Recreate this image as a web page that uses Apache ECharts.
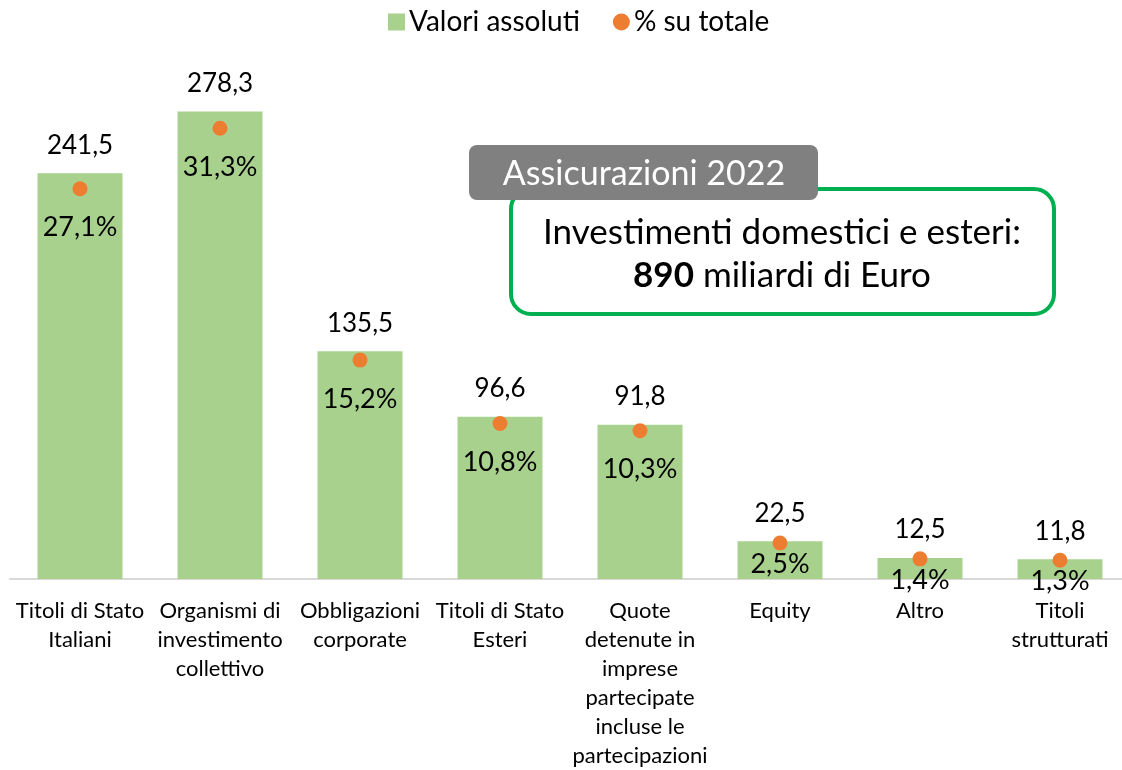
<!DOCTYPE html>
<html>
<head>
<meta charset="utf-8">
<script src="https://cdn.jsdelivr.net/npm/echarts@6/dist/echarts.min.js"></script>
<style>
  html, body { margin: 0; padding: 0; background: #fff; }
  #chart { width: 1122px; height: 770px; }
</style>
</head>
<body>
<div id="chart"></div>
<script>
var categories = [
  'Titoli di Stato\nItaliani',
  'Organismi di\ninvestimento\ncollettivo',
  'Obbligazioni\ncorporate',
  'Titoli di Stato\nEsteri',
  'Quote\ndetenute in\nimprese\npartecipate\nincluse le\npartecipazioni',
  'Equity',
  'Altro',
  'Titoli\nstrutturati'
];
var absValues = [241.5, 278.3, 135.5, 96.6, 91.8, 22.5, 12.5, 11.8];
var pctValues = [27.1, 31.3, 15.2, 10.8, 10.3, 2.5, 1.4, 1.3];

var font = 'Lato, "Open Sans", sans-serif';
function itNum(v, d) {
  return v.toFixed(d).replace('.', ',');
}

// small bars: label sits closer to the dot, over the axis line
var pctData = pctValues.map(function (v) {
  return v < 5 ? { value: v, label: { distance: 0 } } : v;
});

var chart = echarts.init(document.getElementById('chart'), null, { renderer: 'canvas' });
chart.setOption({
  animation: false,
  textStyle: { fontFamily: font, color: '#000' },
  legend: {
    top: 3,
    left: 383,
    itemGap: 33,
    itemWidth: 17,
    itemHeight: 17,
    textStyle: { fontSize: 28, fontFamily: font, color: '#000', padding: [0, 0, 0, -1] },
    data: [
      { name: 'Valori assoluti', icon: 'rect' },
      { name: '% su totale', icon: 'circle' }
    ]
  },
  grid: { left: 10, width: 1120, top: 75, bottom: 191, outerBoundsMode: 'none', containLabel: false },
  xAxis: {
    type: 'category',
    data: categories,
    axisLine: { lineStyle: { color: '#d9d9d9', width: 2 } },
    axisTick: { show: false },
    axisLabel: {
      interval: 0,
      margin: 17,
      fontSize: 22,
      lineHeight: 29,
      color: '#000',
      fontFamily: font
    }
  },
  yAxis: [
    { type: 'value', min: 0, max: 300, show: false },
    { type: 'value', min: 0, max: 35, show: false }
  ],
  series: [
    {
      name: 'Valori assoluti',
      type: 'bar',
      data: absValues,
      barWidth: 85,
      itemStyle: { color: '#a9d18e' },
      label: {
        show: true,
        position: 'top',
        distance: 15,
        fontSize: 26,
        color: '#000',
        fontFamily: font,
        formatter: function (p) { return itNum(p.value, 1); }
      }
    },
    {
      name: '% su totale',
      type: 'scatter',
      yAxisIndex: 1,
      data: pctData,
      symbol: 'circle',
      symbolSize: 15,
      itemStyle: { color: '#ed7d31', opacity: 1 },
      z: 5,
      label: {
        show: true,
        position: 'bottom',
        distance: 18,
        fontSize: 27,
        color: '#000',
        textBorderWidth: 0,
        fontFamily: font,
        formatter: function (p) { return itNum(p.value, 1) + '%'; }
      }
    }
  ],
  graphic: [
    {
      type: 'rect',
      shape: { x: 511, y: 189, width: 543, height: 125, r: 20 },
      style: { fill: '#fff', stroke: '#00b050', lineWidth: 4 },
      z: 10
    },
    {
      type: 'rect',
      shape: { x: 469, y: 145, width: 349, height: 55, r: 8 },
      style: { fill: '#808080' },
      z: 11
    },
    {
      type: 'text',
      x: 644, y: 174,
      style: {
        text: 'Assicurazioni 2022',
        fill: '#fff',
        font: '34px ' + font,
        textAlign: 'center',
        textVerticalAlign: 'middle'
      },
      z: 12
    },
    {
      type: 'text',
      x: 782, y: 233,
      style: {
        text: 'Investimenti domestici e esteri:',
        fill: '#000',
        font: '35px ' + font,
        textAlign: 'center',
        textVerticalAlign: 'middle'
      },
      z: 12
    },
    {
      type: 'text',
      x: 782, y: 276,
      style: {
        text: '{b|890} miliardi di Euro',
        fill: '#000',
        font: '35px ' + font,
        textAlign: 'center',
        textVerticalAlign: 'middle',
        rich: {
          b: { fontWeight: 'bold', fontSize: 35, fontFamily: font, fill: '#000' }
        }
      },
      z: 12
    }
  ]
});
</script>
</body>
</html>
